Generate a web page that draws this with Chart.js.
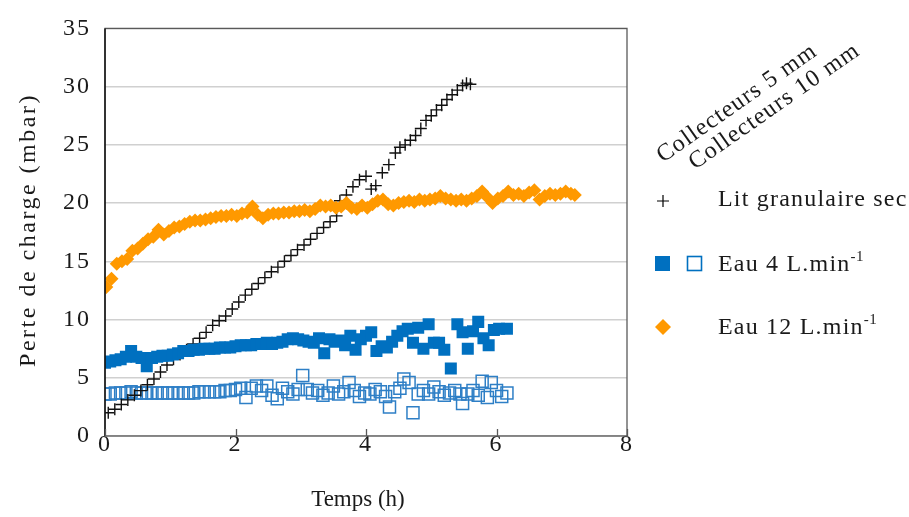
<!DOCTYPE html>
<html>
<head>
<meta charset="utf-8">
<script src="https://cdn.jsdelivr.net/npm/chart.js@4.4.1/dist/chart.umd.min.js"></script>
<style>
  html, body { margin: 0; padding: 0; background: #fff; }
  #wrap { width: 909px; height: 517px; }
</style>
</head>
<body>
<div id="wrap"><canvas id="chart" width="909" height="517"></canvas></div>
<script>
// Lit granulaire sec (black crosses)
const dryTime = [0.05, 0.15, 0.25, 0.35, 0.45, 0.55, 0.65, 0.75, 0.85, 0.95, 1.05, 1.15, 1.25, 1.35, 1.45, 1.55, 1.65, 1.75, 1.85, 1.95,
  2.05, 2.15, 2.25, 2.35, 2.45, 2.55, 2.65, 2.75, 2.85, 2.95, 3.05, 3.15, 3.25, 3.35, 3.45, 3.55, 3.6, 3.7, 3.8, 3.9,
  4.0, 4.08, 4.15, 4.25, 4.35, 4.45, 4.52, 4.6, 4.68, 4.76, 4.84, 4.92, 5.0, 5.08, 5.16, 5.24, 5.32, 5.4, 5.48, 5.54, 5.6];
const dryValues = [2.0, 2.3, 2.7, 3.1, 3.5, 3.9, 4.4, 4.9, 5.5, 6.1, 6.6, 7.0, 7.4, 7.9, 8.4, 8.9, 9.5, 9.9, 10.3, 10.9,
  11.5, 12.1, 12.6, 13.1, 13.6, 14.1, 14.5, 15.0, 15.5, 16.0, 16.4, 16.9, 17.4, 17.9, 18.4, 18.9, 20.2, 20.7, 21.4, 22.0,
  22.3, 21.2, 21.5, 22.6, 23.3, 24.3, 24.8, 25.0, 25.4, 25.8, 26.4, 27.1, 27.5, 28.0, 28.4, 28.9, 29.3, 29.7, 30.1, 30.3, 30.2];

// Eau 12 L.min-1 (orange diamonds)
const water12Time = [0.02, 0.1, 0.18, 0.26, 0.34, 0.42, 0.5, 0.58, 0.66, 0.74, 0.82, 0.9, 0.98, 1.06, 1.14, 1.22, 1.3, 1.38, 1.46, 1.54,
  1.62, 1.7, 1.78, 1.86, 1.94, 2.02, 2.1, 2.18, 2.26, 2.34, 2.42, 2.5, 2.58, 2.66, 2.74, 2.82, 2.9, 2.98, 3.06, 3.14,
  3.22, 3.3, 3.38, 3.46, 3.54, 3.62, 3.7, 3.78, 3.86, 3.94, 4.02, 4.1, 4.18, 4.26, 4.34, 4.42, 4.5, 4.58, 4.66, 4.74,
  4.82, 4.9, 4.98, 5.06, 5.14, 5.22, 5.3, 5.38, 5.46, 5.54, 5.62, 5.7, 5.78, 5.86, 5.94, 6.02, 6.1, 6.18, 6.26, 6.34,
  6.42, 6.5, 6.58, 6.66, 6.74, 6.82, 6.9, 6.98, 7.06, 7.14, 7.2];
const water12Values = [12.8, 13.5, 14.8, 15.0, 15.2, 15.9, 16.1, 16.5, 16.9, 17.1, 17.7, 17.3, 17.6, 17.9, 18.0, 18.2, 18.4, 18.5, 18.5, 18.6,
  18.7, 18.8, 18.9, 18.9, 19.0, 18.9, 19.1, 19.2, 19.7, 19.0, 18.7, 19.0, 19.1, 19.1, 19.2, 19.2, 19.3, 19.3, 19.4, 19.3,
  19.5, 19.8, 19.7, 19.8, 19.6, 19.7, 20.0, 19.6, 19.5, 19.8, 19.6, 19.9, 20.2, 20.3, 19.9, 19.8, 20.0, 20.1, 20.2, 20.1,
  20.3, 20.2, 20.3, 20.4, 20.6, 20.4, 20.3, 20.2, 20.3, 20.2, 20.4, 20.6, 21.0, 20.5, 20.0, 20.4, 20.6, 21.0, 20.7, 20.8,
  20.6, 20.9, 21.1, 20.3, 20.6, 20.8, 20.7, 20.8, 21.0, 20.8, 20.7];

// Eau 4 L.min-1, collecteurs 5 mm (filled squares)
const water4aTime = [0.0, 0.08, 0.16, 0.24, 0.32, 0.4, 0.48, 0.56, 0.64, 0.72, 0.8, 0.88, 0.96, 1.04, 1.12, 1.2, 1.28, 1.36, 1.44, 1.52,
  1.6, 1.68, 1.76, 1.84, 1.92, 2.0, 2.08, 2.16, 2.24, 2.32, 2.4, 2.48, 2.56, 2.64, 2.72, 2.8, 2.88, 2.96, 3.04, 3.12,
  3.2, 3.28, 3.36, 3.44, 3.52, 3.6, 3.68, 3.76, 3.84, 3.92, 4.0, 4.08, 4.16, 4.24, 4.32, 4.4, 4.48, 4.56, 4.64, 4.72,
  4.8, 4.88, 4.96, 5.04, 5.12, 5.2, 5.3, 5.4, 5.48, 5.56, 5.64, 5.72, 5.8, 5.88, 5.96, 6.04, 6.16];
const water4aValues = [6.3, 6.4, 6.5, 6.6, 6.8, 7.3, 6.8, 6.7, 6.0, 6.7, 6.8, 6.9, 6.9, 7.0, 7.1, 7.3, 7.3, 7.4, 7.4, 7.5,
  7.5, 7.5, 7.6, 7.6, 7.6, 7.7, 7.8, 7.8, 7.8, 7.9, 7.9, 8.0, 7.9, 8.0, 8.1, 8.3, 8.4, 8.3, 8.2, 8.1,
  8.0, 8.4, 7.1, 8.3, 8.1, 8.2, 7.8, 8.6, 7.4, 8.3, 8.6, 8.9, 7.3, 7.7, 7.6, 8.1, 8.6, 9.0, 9.2, 8.0,
  9.3, 7.5, 9.6, 8.0, 8.0, 7.4, 5.8, 9.6, 8.9, 7.5, 9.0, 9.8, 8.4, 7.8, 9.1, 9.2, 9.2];

// Eau 4 L.min-1, collecteurs 10 mm (open squares)
const water4bTime = [0.0, 0.08, 0.16, 0.24, 0.32, 0.4, 0.48, 0.56, 0.64, 0.72, 0.8, 0.88, 0.96, 1.04, 1.12, 1.2, 1.28, 1.36, 1.44, 1.52,
  1.6, 1.68, 1.76, 1.84, 1.92, 2.0, 2.08, 2.16, 2.24, 2.32, 2.4, 2.48, 2.56, 2.64, 2.72, 2.8, 2.88, 2.96, 3.03, 3.1,
  3.18, 3.26, 3.34, 3.42, 3.5, 3.58, 3.66, 3.74, 3.82, 3.9, 3.98, 4.06, 4.14, 4.22, 4.3, 4.36, 4.44, 4.52, 4.58, 4.66,
  4.72, 4.8, 4.88, 4.96, 5.04, 5.12, 5.2, 5.28, 5.36, 5.44, 5.48, 5.56, 5.64, 5.72, 5.78, 5.86, 5.92, 6.0, 6.08, 6.16];
const water4bValues = [3.6, 3.6, 3.7, 3.7, 3.7, 3.8, 3.7, 3.7, 3.7, 3.7, 3.7, 3.7, 3.7, 3.7, 3.7, 3.7, 3.7, 3.7, 3.8, 3.8,
  3.8, 3.8, 3.8, 3.9, 3.9, 4.0, 4.1, 3.3, 4.1, 4.3, 3.9, 4.3, 3.5, 3.2, 4.1, 3.8, 3.6, 4.0, 5.2, 4.0,
  3.7, 3.9, 3.5, 3.7, 4.3, 3.6, 3.8, 4.6, 3.9, 3.4, 3.7, 3.6, 4.0, 3.8, 3.4, 2.5, 3.8, 4.1, 4.9, 4.6,
  2.0, 3.6, 3.9, 3.6, 4.2, 3.8, 3.5, 3.7, 3.9, 3.6, 2.8, 3.6, 3.9, 3.5, 4.7, 3.3, 4.6, 3.9, 3.4, 3.7];

const yTicks = [0, 5, 10, 15, 20, 25, 30, 35];
const xTicks = [0, 2, 4, 6, 8];

const FONT = "'Liberation Serif', 'Times New Roman', serif";

function toPoints(xs, ys) {
    return xs.map((x, i) => ({ x: x, y: ys[i] }));
}

// Tick label spacing (the reference text is set rather loose)
const spacingPlugin = {
    id: 'spacing',
    beforeDraw(chart) {
        chart.ctx.letterSpacing = '2px';
    }
};

// Draws the plot frame and the small inward tick marks on the x axis
const framePlugin = {
    id: 'frame',
    afterDatasetsDraw(chart) {
        const ctx = chart.ctx;
        const a = chart.chartArea;
        const xs = chart.scales.x;
        ctx.save();
        ctx.lineWidth = 1.3;
        ctx.strokeStyle = '#595959';
        ctx.strokeRect(a.left, a.top, a.right - a.left, a.bottom - a.top);
        ctx.strokeStyle = '#000';
        ctx.beginPath();
        ctx.moveTo(a.left, a.top);
        ctx.lineTo(a.left, a.bottom);
        ctx.stroke();
        ctx.strokeStyle = '#595959';
        xTicks.forEach(t => {
            const px = Math.round(xs.getPixelForValue(t)) + 0.5;
            ctx.beginPath();
            ctx.moveTo(px, a.bottom);
            ctx.lineTo(px, a.bottom - 7);
            ctx.stroke();
        });
        ctx.restore();
    }
};

// Axis titles and the legend at the right
const legendPlugin = {
    id: 'sideLegend',
    afterDraw(chart) {
        const ctx = chart.ctx;
        ctx.save();
        ctx.fillStyle = '#1a1a1a';
        ctx.textBaseline = 'middle';

        // axis titles
        ctx.font = '23px ' + FONT;
        ctx.letterSpacing = '0px';
        ctx.textAlign = 'center';
        ctx.fillText('Temps (h)', 358, 500);
        ctx.save();
        ctx.translate(29, 230);
        ctx.rotate(-Math.PI / 2);
        ctx.font = '24px ' + FONT;
        ctx.letterSpacing = '2.5px';
        ctx.fillText('Perte de charge (mbar)', 0, 0);
        ctx.restore();

        ctx.textAlign = 'left';
        ctx.font = '24px ' + FONT;
        ctx.letterSpacing = '1.2px';
        ctx.textBaseline = 'alphabetic';
        ctx.save();
        ctx.translate(663, 163);
        ctx.rotate(-35 * Math.PI / 180);
        ctx.fillText('Collecteurs 5 mm', 0, 0);
        ctx.restore();
        ctx.save();
        ctx.translate(695, 170);
        ctx.rotate(-35 * Math.PI / 180);
        ctx.fillText('Collecteurs 10 mm', 0, 0);
        ctx.restore();

        // cross
        ctx.strokeStyle = '#000';
        ctx.lineWidth = 1.2;
        ctx.beginPath();
        ctx.moveTo(657, 201); ctx.lineTo(669, 201);
        ctx.moveTo(663, 195); ctx.lineTo(663, 207);
        ctx.stroke();
        ctx.textBaseline = 'middle';
        ctx.fillText('Lit granulaire sec', 718, 200);

        // squares
        ctx.fillStyle = '#0070C0';
        ctx.fillRect(655, 256, 15, 15);
        ctx.strokeStyle = '#0070C0';
        ctx.lineWidth = 1.6;
        ctx.strokeRect(687.5, 256.5, 14, 14);
        ctx.fillStyle = '#1a1a1a';
        ctx.fillText('Eau 4 L.min', 718, 265);
        let w = ctx.measureText('Eau 4 L.min').width;
        ctx.font = '15px ' + FONT;
        ctx.letterSpacing = '0.5px';
        ctx.fillText('-1', 718 + w, 257);

        // diamond
        ctx.fillStyle = '#FF9900';
        ctx.beginPath();
        ctx.moveTo(663, 319); ctx.lineTo(671, 327); ctx.lineTo(663, 335); ctx.lineTo(655, 327);
        ctx.closePath();
        ctx.fill();
        ctx.fillStyle = '#1a1a1a';
        ctx.font = '24px ' + FONT;
        ctx.letterSpacing = '1.2px';
        ctx.fillText('Eau 12 L.min', 718, 328);
        w = ctx.measureText('Eau 12 L.min').width;
        ctx.font = '15px ' + FONT;
        ctx.letterSpacing = '0.5px';
        ctx.fillText('-1', 718 + w, 320);
        ctx.restore();
    }
};

const ctx = document.getElementById('chart').getContext('2d');
const chart = new Chart(ctx, {
    type: 'scatter',
    data: {
        datasets: [
            {
                label: 'Eau 4 L.min-1 (5 mm)',
                data: toPoints(water4aTime, water4aValues),
                pointStyle: 'rect',
                pointRadius: 8.5,
                backgroundColor: '#0070C0',
                borderColor: '#0070C0',
                borderWidth: 0,
                order: 1
            },
            {
                label: 'Eau 12 L.min-1',
                data: toPoints(water12Time, water12Values),
                pointStyle: 'rectRot',
                pointRadius: 7,
                backgroundColor: '#FF9900',
                borderColor: '#FF9900',
                borderWidth: 0,
                order: 2
            },
            {
                label: 'Lit granulaire sec',
                data: toPoints(dryTime, dryValues),
                pointStyle: 'cross',
                pointRadius: 6,
                borderColor: '#111',
                borderWidth: 1.4,
                order: 3
            },
            {
                label: 'Eau 4 L.min-1 (10 mm)',
                data: toPoints(water4bTime, water4bValues),
                pointStyle: 'rect',
                pointRadius: 8.5,
                backgroundColor: 'rgba(0,0,0,0)',
                borderColor: '#2E7FC6',
                borderWidth: 1.5,
                order: 4
            }
        ]
    },
    options: {
        responsive: false,
        animation: false,
        layout: { padding: { top: 23, right: 282, left: 0, bottom: 0 } },
        plugins: {
            legend: { display: false },
            tooltip: { enabled: false }
        },
        scales: {
            x: {
                type: 'linear',
                min: 0,
                max: 8,
                afterFit(scale) { scale.height = 81; },
                afterBuildTicks(scale) { scale.ticks = xTicks.map(v => ({ value: v })); },
                grid: { display: false, drawTicks: false },
                border: { display: false },
                ticks: { color: '#1a1a1a', padding: -6, font: { family: FONT, size: 24 } }
            },
            y: {
                type: 'linear',
                min: 0,
                max: 35,
                afterFit(scale) { scale.width = 105; },
                afterBuildTicks(scale) { scale.ticks = yTicks.map(v => ({ value: v })); },
                grid: { color: '#d0d0d0', lineWidth: 1.5, drawTicks: false },
                border: { display: false },
                ticks: { color: '#1a1a1a', padding: 14, font: { family: FONT, size: 24 } }
            }
        }
    },
    plugins: [spacingPlugin, framePlugin, legendPlugin]
});
</script>
</body>
</html>
